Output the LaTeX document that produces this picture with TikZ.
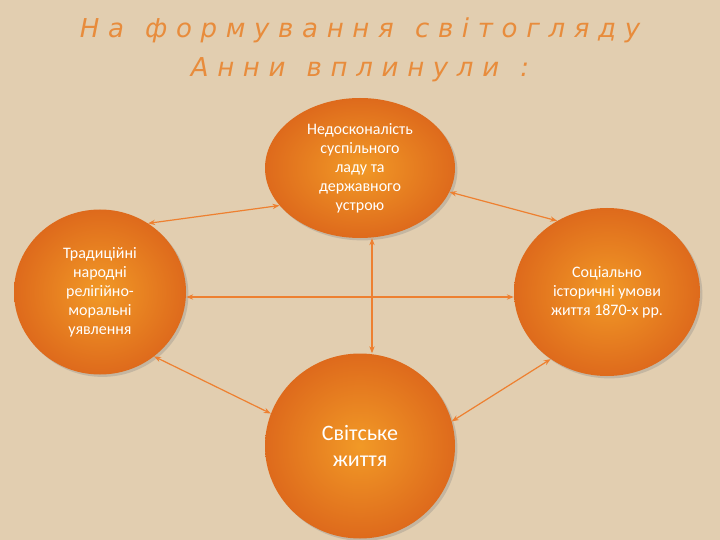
\documentclass[tikz,border=0pt]{standalone}
\usepackage{fontspec}
\setmainfont{Carlito}
\newfontfamily\titlefont{DejaVu Sans}
\usetikzlibrary{arrows.meta,shadows,shapes.geometric}
\definecolor{bg}{RGB}{226,206,176}
\definecolor{org}{RGB}{238,128,48}
\definecolor{orgd}{RGB}{222,106,28}
\definecolor{ttl}{RGB}{232,140,60}
\begin{document}
\begin{tikzpicture}[x=1pt,y=-1pt,
  circ/.style={ellipse,inner sep=0pt,inner color=org!80!yellow,outer color=orgd,draw=none,text=white,align=center,font=\fontsize{16}{19}\selectfont,drop shadow={opacity=0.3}},
  conn/.style={draw=org,line width=1.2pt,{Stealth[length=7pt]}-{Stealth[length=7pt]}},
  ttlstyle/.style={text=ttl,font=\titlefont\itshape\fontsize{26}{30}\selectfont}]
\fill[bg] (0,0) rectangle (720,540);
\useasboundingbox (0,0) rectangle (720,540);
\node[ttlstyle] (t1) at (360,30) {Н\,\,а\,\, \,ф\,\,о\,\,р\,\,м\,\,у\,\,в\,\,а\,\,н\,\,н\,\,я\,\, \,с\,\,в\,\,і\,\,т\,\,о\,\,г\,\,л\,\,я\,\,д\,\,у};
\node[ttlstyle] (t2) at (360,70) {А\,\,н\,\,н\,\,и\,\, \,в\,\,п\,\,л\,\,и\,\,н\,\,у\,\,л\,\,и\,\, \,:};
\node[circ,minimum width=190pt,minimum height=140pt] (top) at (360,168) {Недосконалість\\суспільного\\ладу та\\державного\\устрою};
\node[circ,minimum width=172pt,minimum height=165pt] (left) at (100,292) {Традиційні\\народні\\релігійно-\\моральні\\уявлення};
\node[circ,minimum width=186pt,minimum height=168pt] (right) at (607,292) {Соціально\\історичні умови\\життя 1870-х рр.};
\node[circ,minimum width=190pt,minimum height=185pt,font=\fontsize{22}{26}\selectfont] (bot) at (360,446) {Світське\\життя};
\draw[conn] (top.205) -- (left.55);
\draw[conn] (top.-15) -- (right.125);
\draw[conn] (left.east |- 0,297) -- (right.west |- 0,297);
\draw[conn] (top.south -| 372,0) -- (bot.north -| 372,0);
\draw[conn] (left.-50) -- (bot.160);
\draw[conn] (bot.15) -- (right.-130);
\end{tikzpicture}
\end{document}
